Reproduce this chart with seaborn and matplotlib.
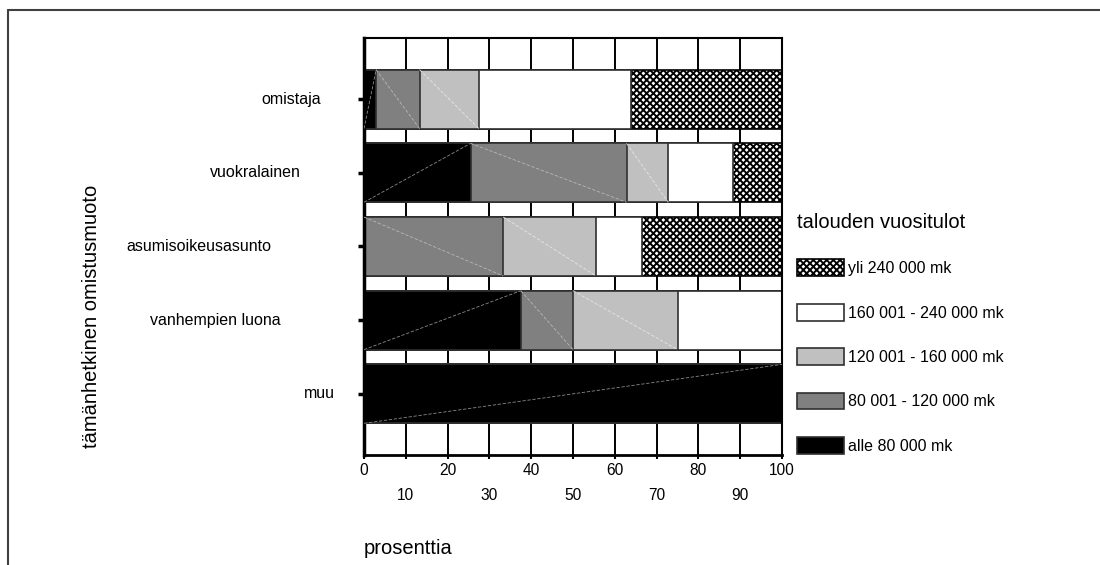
import numpy as np
import pandas as pd
import matplotlib
matplotlib.use("Agg")
import matplotlib.pyplot as plt
import matplotlib.transforms as mtransforms
from matplotlib.lines import Line2D
import seaborn as sns

# ---------------- data ----------------
categories = ["omistaja", "vuokralainen", "asumisoikeusasunto",
              "vanhempien luona", "muu"]
income_groups = ["alle 80 000 mk", "80 001 - 120 000 mk",
                 "120 001 - 160 000 mk", "160 001 - 240 000 mk",
                 "yli 240 000 mk"]
alle_80 = [2.9, 25.5, 0.0, 37.5, 100.0]
v80_120 = [10.4, 37.3, 33.3, 12.5, 0.0]
v120_160 = [14.2, 10.0, 22.2, 25.0, 0.0]
v160_240 = [36.3, 15.4, 11.1, 25.0, 0.0]
yli_240 = [36.2, 11.8, 33.4, 0.0, 0.0]
x_ticks_even = [0, 20, 40, 60, 80, 100]
x_ticks_odd = [10, 30, 50, 70, 90]

# ---------------- styles ----------------
fills = ["#000000", "#808080", "#c0c0c0", "#ffffff", "#ffffff"]
edges = ["#303030", "#303030", "#303030", "#303030", "#000000"]
hatches = [None, None, None, None, "xxxxx"]
diag_colors = ["#8a8a8a", "#b8b8b8", "#e6e6e6", None, None]
# label right edges (axes fraction) as in the original layout
label_right = [-0.103, -0.151, -0.222, -0.199, -0.069]

sns.set_style("white")
plt.rcParams["font.family"] = ["Liberation Sans", "DejaVu Sans"]
plt.rcParams["hatch.linewidth"] = 1.4
plt.rcParams["text.color"] = "black"
plt.rcParams["axes.labelcolor"] = "black"

fig = plt.figure(figsize=(11, 5.65), dpi=100)
ax = fig.add_axes([364 / 1100, 1 - 455 / 565, 418 / 1100, 417 / 565])

series = [alle_80, v80_120, v120_160, v160_240, yli_240]
df = pd.DataFrame({"kategoria": categories})
for name, vals in zip(income_groups, series):
    df[name] = vals
cum = df[income_groups].cumsum(axis=1)

# draw from the outermost cumulative layer to innermost
for k in range(len(income_groups) - 1, -1, -1):
    sns.barplot(data=df.assign(_v=cum[income_groups[k]]), x="_v", y="kategoria",
                orient="h", order=categories, color=fills[k], saturation=1,
                edgecolor=edges[k], linewidth=1.2, width=0.8, errorbar=None,
                hatch=hatches[k], ax=ax, label=income_groups[k])
if ax.get_legend() is not None:
    ax.get_legend().remove()

# faint diagonal artefacts inside segments
layer_of = {}
for cont in ax.containers:
    layer_of[cont.get_label()] = cont
for k, name in enumerate(income_groups):
    if diag_colors[k] is None:
        continue
    cont = layer_of[name]
    start = cum[name] - df[name]
    for i, p in enumerate(cont.patches):
        w = df[name].iloc[i]
        if w <= 0:
            continue
        y0, h = p.get_y(), p.get_height()
        x0 = start.iloc[i]
        if k == 0:
            xs, ys = [x0, x0 + w], [y0 + h, y0]
        else:
            xs, ys = [x0, x0 + w], [y0, y0 + h]
        ax.plot(xs, ys, color=diag_colors[k], lw=0.6, ls=(0, (4, 2)), zorder=3)

ax.set_xlim(0, 100)
ax.set_ylim(len(categories) - 1 + 0.83, -0.83)

ax.set_axisbelow(True)
ax.set_xticks(x_ticks_even)
ax.set_xticks(x_ticks_odd, minor=True)
ax.set_xticklabels([str(v) for v in x_ticks_even])
ax.set_xticklabels([str(v) for v in x_ticks_odd], minor=True)
ax.tick_params(axis="x", which="major", length=3, width=1.5, direction="out",
               pad=3, labelsize=11.2, colors="black", bottom=True)
ax.tick_params(axis="x", which="minor", length=3, width=1.5, direction="out",
               pad=21, labelsize=11.2, colors="black", bottom=True)
ax.xaxis.grid(True, which="both", color="black", lw=1.4)
ax.yaxis.grid(False)

ax.set_yticks(range(len(categories)))
ax.set_yticklabels([])
ax.tick_params(axis="y", length=4, width=2.5, direction="out", colors="black",
               left=True)
trans = mtransforms.blended_transform_factory(ax.transAxes, ax.transData)
for i, cat in enumerate(categories):
    ax.text(label_right[i], i, cat, transform=trans, ha="right", va="center",
            fontsize=11.5, color="black")

for side, lw in zip(["left", "right", "top", "bottom"], [2.5, 1.5, 1.5, 2.0]):
    ax.spines[side].set_visible(True)
    ax.spines[side].set_color("black")
    ax.spines[side].set_linewidth(lw)

ax.set_xlabel("prosenttia", fontsize=14.5, loc="left", labelpad=26,
              color="black")
ax.set_ylabel("tämänhetkinen omistusmuoto", fontsize=14.5, color="black")
ax.yaxis.set_label_coords(-0.628, 0.332)

# legend (reverse order: highest income on top)
handles = [layer_of[n] for n in income_groups][::-1]
labels = income_groups[::-1]
leg = fig.legend(handles, labels, title="talouden vuositulot",
                 loc="upper left", bbox_to_anchor=(797 / 1100, 1 - 213 / 565),
                 bbox_transform=fig.transFigure, frameon=False, fontsize=11.5,
                 title_fontsize=14.5, alignment="left", handlelength=2.95,
                 handleheight=1.25, handletextpad=0.25, labelspacing=1.72,
                 borderpad=0, borderaxespad=0)
leg.get_title().set_color("black")

# outer frame as in the original picture
fig.add_artist(Line2D([8 / 1100, 8 / 1100], [0, 1 - 10 / 565],
                      transform=fig.transFigure, color="#404040", lw=1.5))
fig.add_artist(Line2D([8 / 1100, 1], [1 - 10 / 565, 1 - 10 / 565],
                      transform=fig.transFigure, color="#404040", lw=1.5))

fig.savefig("out.png", dpi=100)
